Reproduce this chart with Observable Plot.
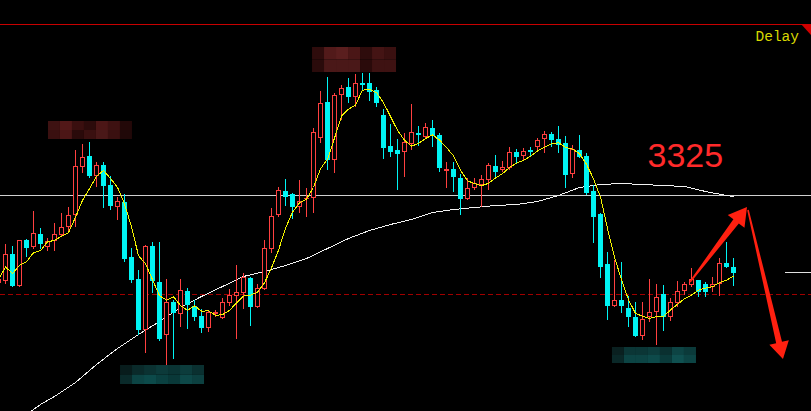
<!DOCTYPE html>
<html><head><meta charset="utf-8">
<script src="https://cdn.jsdelivr.net/npm/d3@7"></script>
<script src="https://cdn.jsdelivr.net/npm/@observablehq/plot@0.6"></script>
<style>
html,body{margin:0;padding:0;background:#000;overflow:hidden;}
#chart{width:811px;height:411px;overflow:hidden;position:relative;background:#000;}
#chart svg{display:block;}
</style></head><body><div id="chart"></div>
<script>
// OHLC (price units, 1 point per pixel)
const open  = [3237,3239,3266,3234,3280,3273,3286,3273,3279,3285,3293,3305,3353,3364,3344,3355,3335,3313,3318,3263,3241,3190,3274,3238,3185,3218,3206,3229,3214,3204,3192,3206,3202,3217,3224,3227,3242,3213,3231,3271,3305,3329,3326,3313,3321,3322,3382,3418,3360,3425,3433,3423,3437,3437,3430,3405,3374,3370,3368,3376,3387,3383,3392,3385,3349,3351,3342,3321,3332,3335,3340,3354,3350,3352,3368,3364,3370,3373,3381,3386,3381,3377,3346,3370,3364,3329,3306,3256,3214,3220,3212,3203,3184,3203,3208,3226,3203,3217,3229,3235,3240,3236,3233,3236,3257,3253];
const close = [3241,3266,3234,3280,3272,3287,3276,3279,3286,3293,3305,3354,3363,3344,3355,3334,3314,3319,3261,3240,3190,3274,3239,3181,3218,3207,3230,3215,3203,3192,3208,3208,3218,3225,3228,3243,3213,3232,3272,3304,3330,3323,3313,3319,3322,3388,3417,3360,3425,3432,3423,3437,3435,3428,3417,3372,3368,3366,3378,3388,3385,3393,3384,3352,3351,3343,3321,3332,3337,3341,3355,3348,3353,3368,3363,3369,3368,3380,3386,3380,3375,3345,3371,3363,3327,3303,3253,3214,3220,3214,3203,3184,3201,3208,3223,3203,3218,3229,3236,3241,3228,3228,3236,3257,3253,3247];
const high  = [3243,3276,3274,3280,3281,3309,3292,3282,3297,3307,3313,3370,3376,3378,3358,3358,3344,3323,3326,3272,3250,3275,3278,3278,3241,3220,3241,3232,3220,3211,3209,3210,3222,3231,3255,3247,3243,3236,3280,3312,3333,3341,3327,3340,3332,3392,3429,3443,3427,3435,3442,3446,3447,3447,3433,3411,3396,3381,3387,3416,3394,3397,3400,3387,3358,3358,3346,3342,3342,3345,3357,3365,3359,3373,3371,3372,3373,3382,3389,3388,3394,3384,3375,3385,3367,3335,3307,3268,3260,3258,3224,3218,3218,3241,3236,3235,3222,3239,3238,3252,3240,3238,3243,3262,3278,3262];
const low   = [3235,3236,3233,3233,3263,3271,3271,3269,3269,3284,3289,3293,3347,3342,3333,3312,3310,3300,3258,3237,3185,3167,3227,3179,3155,3161,3193,3191,3199,3187,3188,3203,3201,3214,3181,3211,3194,3212,3230,3267,3303,3314,3301,3307,3303,3307,3377,3350,3347,3400,3417,3413,3430,3419,3413,3361,3363,3330,3343,3370,3374,3382,3373,3348,3332,3328,3305,3320,3330,3313,3330,3343,3348,3350,3357,3360,3363,3369,3367,3373,3367,3332,3342,3362,3325,3277,3242,3200,3213,3207,3193,3183,3180,3198,3175,3189,3199,3213,3225,3233,3223,3223,3228,3224,3252,3234];

// long moving average (white), read at sampled bars
const maLongIndex = [4,6,8,11,14,17,20,23,26,29,32,35,38,41,44,47,50,53,56,59,62,65,68,71,74,77,80,83,86,89,92,95,98,101,104,105];
const maLongValue = [3106,3116,3124,3138,3156,3172,3186,3199,3213,3224,3234,3244,3249,3255,3262,3272,3282,3290,3296,3301,3308,3311,3313,3315,3316,3319,3325,3333,3336,3337,3336,3335,3334,3329,3325,3324];

// reference levels
const levelWhite = 3325, levelDash = 3226, levelTop = 3496, levelRight = 3248;
const priceLabel = "3325", delayLabel = "Delay";

// censor mosaics: [left bar, right bar, top price, bottom price, rows of colours]
const mosaics = [
  {x1: 7.14, x2: 19.14, top: 3399, bottom: 3381, rows: [
    ["#3e1212","#521818","#3a0f0f","#2c0b0b","#4c1616","#3e1111","#230808"],
    ["#3a1010","#4c1616","#2a0a0a","#3a1010","#4a1818","#3a1010","#200808"]]},
  {x1: 44.86, x2: 56.86, top: 3473, bottom: 3448, rows: [
    ["#2e0c0c","#521a1a","#5a1e1e","#4a1616","#2e0c0c","#441414","#3a1010"],
    ["#2a0b0b","#4a1818","#4a1818","#4a1818","#2a0a0a","#3e1212","#3e1212"]]},
  {x1: 17.43, x2: 29.43, top: 3155, bottom: 3136, rows: [
    ["#081c1c","#0a2a2a","#0b3232","#0c3a3a","#0a3434","#0c3c3c","#0a3030"],
    ["#0a2a2a","#0c4444","#0c4a4a","#0a4040","#093838","#0d4848","#0c4040"]]},
  {x1: 87.71, x2: 99.71, top: 3173, bottom: 3157, rows: [
    ["#0a2020","#0b3636","#0b3636","#0c3c3c","#0a3030","#0d4444","#0b3a3a"],
    ["#0a2828","#0c4444","#0c4444","#0d4a4a","#0a3a3a","#0f5050","#0c4444"]]}
];
// annotation arrows (bar index, price)
const arrows = [
  {x1: 98.86, y1: 3238, x2: 107.0, y2: 3313, head: 18, half: 10.5, w0: 0.8, w1: 3.4},
  {x1: 107.14, y1: 3310, x2: 112.14, y2: 3161, head: 17, half: 10, w0: 0.8, w1: 3.0}
];
// corner marker (bar index, price)
const corner = [[803/7, 3496], [813/7, 3496], [813/7, 3485]];

const candles = open.map((o, i) => ({i, open: o, close: close[i], high: high[i], low: low[i]}));
const ups = candles.filter(d => d.close >= d.open);
const downs = candles.filter(d => d.close < d.open);
const cells = [];
for (const m of mosaics) {
  const nr = m.rows.length;
  m.rows.forEach((row, r) => {
    const nc = row.length;
    row.forEach((c, k) => cells.push({
      x1: m.x1 + (m.x2 - m.x1) * k / nc, x2: m.x1 + (m.x2 - m.x1) * (k + 1) / nc,
      y1: m.top - (m.top - m.bottom) * r / nr, y2: m.top - (m.top - m.bottom) * (r + 1) / nr, fill: c}));
  });
}
const maLong = maLongIndex.map((i, k) => ({i, v: maLongValue[k]}));

const RED = "#ff4040", CYAN = "#00f4f4";
const plot = Plot.plot({
  width: 811, height: 411, margin: 0,
  x: {domain: [2/7, 813/7], axis: null},
  y: {domain: [3109, 3520], axis: null},
  color: {type: "identity"},
  style: {background: "#000", overflow: "hidden"},
  marks: [
    Plot.ruleY([levelWhite], {stroke: "#d0d0d0"}),
    Plot.ruleY([levelDash], {stroke: "#a00000", strokeDasharray: "5,3"}),
    Plot.ruleY([levelTop], {stroke: "#c80000"}),
    Plot.ruleY([levelRight], {x1: 787/7, x2: 813/7, stroke: "#e0e0e0"}),
    Plot.rect(cells, {x1: "x1", x2: "x2", y1: "y1", y2: "y2", fill: "fill"}),
    Plot.line(maLong, {x: "i", y: "v", stroke: "#f2f2f2", strokeWidth: 1, shapeRendering: "crispEdges"}),
    Plot.ruleX(downs, {x: "i", y1: "low", y2: "high", stroke: CYAN}),
    Plot.ruleX(ups, {x: "i", y1: "low", y2: "high", stroke: RED}),
    Plot.rect(downs, {x1: d => d.i - 2/7, x2: d => d.i + 3/7, y1: "open", y2: "close", fill: CYAN}),
    Plot.rect(ups, {x1: d => d.i - 2/7, x2: d => d.i + 3/7, y1: "open", y2: d => Math.max(d.close, d.open + 1), fill: RED}),
    Plot.rect(ups.filter(d => d.close - d.open > 2), {x1: d => d.i - 2/7, x2: d => d.i + 3/7, y1: "open", y2: "close", fill: "#000", inset: 1}),
    Plot.line(candles, Plot.windowY({k: 5, anchor: "end", strict: false}, {x: "i", y: "close", stroke: "#f4f400", strokeWidth: 1, shapeRendering: "crispEdges"})),
    Plot.text([priceLabel], {x: 649/7, y: 3364, text: d => d, textAnchor: "start", fill: "#ff2a2a", fontSize: 34, fontFamily: "Liberation Sans, Arial, sans-serif"}),
    Plot.text([delayLabel], {x: 757/7, y: 3484.5, text: d => d, textAnchor: "start", fill: "#d8d800", fontSize: 14.5, fontFamily: "Liberation Mono, monospace"})
  ]
});
document.getElementById("chart").appendChild(plot);

// arrows and corner marker drawn with the plot's own scales
const sx = plot.scale("x"), sy = plot.scale("y");
const X = sx.apply ? v => sx.apply(v) : d3.scaleLinear(sx.domain, sx.range);
const Y = sy.apply ? v => sy.apply(v) : d3.scaleLinear(sy.domain, sy.range);
const svg = d3.select(plot);
for (const a of arrows) {
  const tx = X(a.x1), ty = Y(a.y1), px = X(a.x2), py = Y(a.y2);
  const L = Math.hypot(px - tx, py - ty), ux = (px - tx) / L, uy = (py - ty) / L;
  const nx = -uy, ny = ux;
  const bx = px - ux * a.head, by = py - uy * a.head;
  const pts = [
    [tx + nx * a.w0, ty + ny * a.w0], [bx + nx * a.w1, by + ny * a.w1], [bx + nx * a.half, by + ny * a.half],
    [px, py], [bx - nx * a.half, by - ny * a.half], [bx - nx * a.w1, by - ny * a.w1], [tx - nx * a.w0, ty - ny * a.w0]
  ];
  svg.append("polygon").attr("points", pts.map(p => p.join(",")).join(" ")).attr("fill", "#ff2010");
}
svg.append("polygon").attr("points", corner.map(([i, p]) => X(i) + "," + Y(p)).join(" ")).attr("fill", "#d00000");
</script></body></html>
